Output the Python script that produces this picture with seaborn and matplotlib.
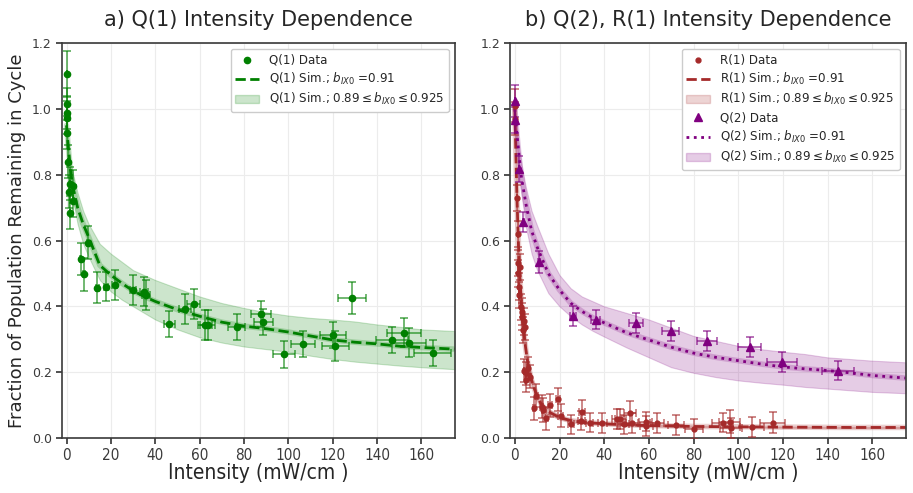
import matplotlib
matplotlib.use("Agg")
import matplotlib.pyplot as plt
import matplotlib.font_manager as fm
from matplotlib.lines import Line2D
from matplotlib.patches import Patch
import seaborn as sns

# ---- Q(1) measured data ----
q1_x = [0.2, 0.2, 0.2, 0.2, 0.2, 0.5, 1.2, 1.7, 1.7, 3.0, 3.0, 6.4, 8.0, 9.7, 13.8, 17.6, 21.7,
        30.0, 35.0, 35.8, 46.4, 53.3, 57.3, 62.6, 63.6, 76.7, 87.6, 88.8, 98.2, 106.7, 120.2,
        121.2, 128.8, 146.7, 152.0, 154.2, 165.1]
q1_y = [1.105, 1.015, 0.988, 0.973, 0.927, 0.839, 0.749, 0.772, 0.684, 0.720, 0.765, 0.544, 0.498,
        0.594, 0.457, 0.460, 0.464, 0.450, 0.445, 0.435, 0.346, 0.392, 0.408, 0.343, 0.343, 0.338,
        0.376, 0.352, 0.254, 0.285, 0.313, 0.280, 0.426, 0.298, 0.320, 0.290, 0.259]
q1_yerr = [0.07, 0.05, 0.05, 0.05, 0.05, 0.05, 0.05, 0.05, 0.05, 0.05, 0.05, 0.048, 0.05, 0.05,
           0.047, 0.045, 0.045, 0.045, 0.045, 0.045, 0.04, 0.045, 0.045, 0.045, 0.045, 0.04,
           0.04, 0.04, 0.042, 0.04, 0.04, 0.045, 0.048, 0.04, 0.045, 0.045, 0.04]
q1_xerr = [0.01, 0.01, 0.01, 0.01, 0.01, 0.03, 0.06, 0.09, 0.09, 0.15, 0.15, 0.3, 0.4, 0.5, 0.7,
           0.9, 1.1, 1.5, 1.75, 1.8, 2.3, 2.7, 2.9, 3.1, 3.2, 3.8, 4.4, 4.4, 4.9, 5.3, 6.0, 6.1,
           6.4, 7.3, 7.6, 7.7, 8.3]

# ---- Q(2) measured data ----
q2_x = [0.1, 0.1, 1.9, 3.7, 10.8, 26.0, 36.2, 54.3, 69.7, 86.0, 105.1, 119.7, 144.8]
q2_y = [1.024, 0.967, 0.817, 0.657, 0.534, 0.371, 0.360, 0.350, 0.324, 0.295, 0.277, 0.230, 0.205]
q2_yerr = [0.05, 0.04, 0.04, 0.03, 0.033, 0.03, 0.03, 0.03, 0.03, 0.03, 0.03, 0.03, 0.03]
q2_xerr = [0.01, 0.01, 0.1, 0.2, 0.6, 1.4, 2.0, 3.0, 3.7, 4.6, 5.0, 6.6, 7.2]

# ---- R(1) measured data ----
r1_x = [0.1, 0.1, 0.9, 1.5, 1.5, 2.4, 1.6, 1.9, 1.9, 2.7, 3.1, 3.4, 4.1, 4.6, 3.7, 4.1, 5.2, 6.1,
        4.9, 6.7, 8.6, 9.7, 12.0, 12.6, 14.1, 15.7, 19.3, 20.5, 25.3, 30.1, 29.8, 33.5, 39.1,
        45.7, 47.2, 51.7, 48.7, 52.4, 58.7, 58.8, 63.8, 72.2, 80.3, 93.0, 96.2, 96.7, 106.2, 115.5]
r1_y = [1.01, 0.97, 0.729, 0.62, 0.531, 0.519, 0.50, 0.46, 0.435, 0.399, 0.384, 0.369, 0.354,
        0.338, 0.328, 0.205, 0.197, 0.212, 0.176, 0.186, 0.09, 0.128, 0.095, 0.085, 0.06, 0.10,
        0.118, 0.067, 0.041, 0.08, 0.053, 0.047, 0.045, 0.058, 0.057, 0.077, 0.041, 0.045, 0.05,
        0.037, 0.045, 0.04, 0.027, 0.047, 0.05, 0.031, 0.034, 0.047]
r1_yerr = [0.05, 0.05, 0.04, 0.04, 0.04, 0.04, 0.04, 0.04, 0.04, 0.04, 0.04, 0.04, 0.04, 0.04,
           0.04, 0.035, 0.035, 0.035, 0.035, 0.035, 0.035, 0.035, 0.035, 0.035, 0.035, 0.035,
           0.035, 0.035, 0.03, 0.035, 0.03, 0.03, 0.03, 0.03, 0.03, 0.035, 0.03, 0.03, 0.03,
           0.03, 0.03, 0.03, 0.03, 0.03, 0.035, 0.03, 0.03, 0.031]
r1_xerr = [0.01, 0.01, 0.05, 0.08, 0.08, 0.12, 0.08, 0.1, 0.1, 0.14, 0.16, 0.17, 0.2, 0.23, 0.19,
           0.2, 0.26, 0.3, 0.25, 0.34, 0.43, 0.5, 0.6, 0.63, 0.7, 0.8, 1.0, 1.0, 1.3, 1.5, 1.5,
           1.7, 2.0, 2.3, 2.4, 2.6, 2.4, 2.6, 2.9, 2.9, 3.2, 3.6, 4.0, 4.6, 4.8, 4.8, 5.3, 5.6]

# ---- simulations (b_IX0 = 0.91 line, 0.89..0.925 band) ----
sim_x = [0, 1, 2, 3, 5, 7.5, 10, 15, 20, 25, 30, 35, 40, 50, 60, 70, 80, 90, 100, 110, 120,
         130, 140, 150, 160, 175]
q1_sim = [0.95, 0.87, 0.80, 0.76, 0.70, 0.65, 0.61, 0.525, 0.495, 0.47, 0.447, 0.43, 0.415, 0.39,
          0.37, 0.352, 0.34, 0.332, 0.322, 0.31, 0.298, 0.291, 0.286, 0.279, 0.275, 0.270]
q1_lo = [0.93, 0.85, 0.77, 0.72, 0.65, 0.59, 0.55, 0.48, 0.445, 0.42, 0.40, 0.38, 0.36, 0.33,
         0.306, 0.29, 0.278, 0.27, 0.262, 0.25, 0.24, 0.232, 0.226, 0.22, 0.215, 0.209]
q1_hi = [0.96, 0.89, 0.83, 0.80, 0.745, 0.69, 0.65, 0.59, 0.56, 0.535, 0.51, 0.495, 0.48, 0.455,
         0.43, 0.41, 0.395, 0.382, 0.372, 0.365, 0.36, 0.354, 0.345, 0.338, 0.33, 0.325]
q2_sim = [1.0, 0.92, 0.85, 0.79, 0.71, 0.63, 0.58, 0.50, 0.45, 0.41, 0.385, 0.365, 0.35, 0.32,
          0.298, 0.276, 0.258, 0.245, 0.235, 0.225, 0.216, 0.21, 0.205, 0.198, 0.19, 0.182]
q2_lo = [0.98, 0.89, 0.80, 0.74, 0.64, 0.56, 0.51, 0.44, 0.40, 0.37, 0.345, 0.325, 0.308, 0.275,
         0.245, 0.215, 0.198, 0.185, 0.175, 0.168, 0.162, 0.155, 0.15, 0.145, 0.14, 0.136]
q2_hi = [1.01, 0.94, 0.88, 0.83, 0.76, 0.69, 0.645, 0.56, 0.495, 0.455, 0.43, 0.415, 0.40, 0.38,
         0.36, 0.335, 0.31, 0.295, 0.28, 0.27, 0.262, 0.255, 0.245, 0.24, 0.235, 0.23]
r1_sim_x = [0, 0.5, 1, 1.5, 2, 3, 4, 5, 6, 7.5, 10, 12.5, 15, 20, 25, 30, 40, 50, 60, 80, 100,
            120, 150, 175]
r1_sim = [1.0, 0.85, 0.72, 0.61, 0.52, 0.40, 0.32, 0.265, 0.22, 0.175, 0.125, 0.095, 0.08, 0.062,
          0.053, 0.048, 0.043, 0.04, 0.038, 0.035, 0.034, 0.033, 0.032, 0.032]
r1_lo = [0.98, 0.82, 0.69, 0.58, 0.49, 0.375, 0.30, 0.245, 0.205, 0.162, 0.115, 0.088, 0.073,
         0.057, 0.049, 0.045, 0.04, 0.037, 0.035, 0.033, 0.032, 0.031, 0.03, 0.03]
r1_hi = [1.01, 0.87, 0.75, 0.64, 0.55, 0.425, 0.345, 0.285, 0.238, 0.19, 0.136, 0.104, 0.088,
         0.068, 0.058, 0.052, 0.047, 0.043, 0.041, 0.038, 0.036, 0.035, 0.034, 0.034]

sim_lbl = r"Sim.; $b_{IX0}$ =0.91"
band_lbl = r"Sim.; 0.89$\leq b_{IX0} \leq$0.925"

sns.set_theme(style="whitegrid")
plt.rcParams.update({
    "font.family": ["DejaVu Sans"],
    "axes.edgecolor": "#3a3a3a",
    "axes.linewidth": 1.2,
    "grid.color": "#ececec",
    "grid.linewidth": 0.8,
    "xtick.bottom": True,
    "ytick.left": True,
    "xtick.color": "#3a3a3a",
    "ytick.color": "#3a3a3a",
    "xtick.major.size": 4,
    "ytick.major.size": 4,
})


def narrow_font():
    files = [f.fname for f in fm.fontManager.ttflist]
    for key in ("NotoSans-ExtraCondensed.ttf", "LiberationSansNarrow-Regular.ttf",
                "NotoSans-Condensed.ttf", "DejaVuSansCondensed.ttf", "RobotoCondensed-Regular.ttf"):
        for p in files:
            if p.endswith(key):
                return p
    return None


nf = narrow_font()

fig = plt.figure(figsize=(9.13, 4.93), dpi=100)
ax1 = fig.add_axes([0.068, 0.1116, 0.430, 0.801])
ax2 = fig.add_axes([0.559, 0.1116, 0.433, 0.801])


def draw_data(ax, x, y, xerr, yerr, color, marker, ms):
    ax.errorbar(x, y, yerr=yerr, xerr=xerr, fmt="none", ecolor=color, alpha=0.65,
                elinewidth=1.2, capsize=3, capthick=1.2, zorder=3)
    ax.plot(x, y, linestyle="none", marker=marker, ms=ms, color=color, zorder=4)


def draw_sim(ax, x, y, lo, hi, color, ls):
    ax.fill_between(x, lo, hi, color=color, alpha=0.2, lw=0.8, zorder=1)
    sns.lineplot(x=x, y=y, ax=ax, color=color, lw=4, alpha=0.22, legend=False, zorder=2)
    sns.lineplot(x=x, y=y, ax=ax, color=color, lw=2, linestyle=ls, legend=False, zorder=2)


# panel a
draw_sim(ax1, sim_x, q1_sim, q1_lo, q1_hi, "green", "--")
draw_data(ax1, q1_x, q1_y, q1_xerr, q1_yerr, "green", "o", 4.5)
h1 = [Line2D([], [], ls="none", marker="o", ms=4.5, color="green"),
      Line2D([], [], ls="--", lw=2, color="green"),
      Patch(facecolor="green", alpha=0.2, edgecolor="green")]
l1 = ["Q(1) Data", "Q(1) " + sim_lbl, "Q(1) " + band_lbl]
ax1.legend(h1, l1, loc="upper right", fontsize=8.6, frameon=True, framealpha=1,
           edgecolor="#cccccc", labelspacing=0.35, borderaxespad=0.5)

# panel b
draw_sim(ax2, r1_sim_x, r1_sim, r1_lo, r1_hi, "brown", "--")
draw_sim(ax2, sim_x, q2_sim, q2_lo, q2_hi, "purple", ":")
draw_data(ax2, r1_x, r1_y, r1_xerr, r1_yerr, "brown", "o", 3.5)
draw_data(ax2, q2_x, q2_y, q2_xerr, q2_yerr, "purple", "^", 6)
h2 = [Line2D([], [], ls="none", marker="o", ms=3.5, color="brown"),
      Line2D([], [], ls="--", lw=2, color="brown"),
      Patch(facecolor="brown", alpha=0.2, edgecolor="brown"),
      Line2D([], [], ls="none", marker="^", ms=6, color="purple"),
      Line2D([], [], ls=":", lw=2, color="purple"),
      Patch(facecolor="purple", alpha=0.2, edgecolor="purple")]
l2 = ["R(1) Data", "R(1) " + sim_lbl, "R(1) " + band_lbl,
      "Q(2) Data", "Q(2) " + sim_lbl, "Q(2) " + band_lbl]
ax2.legend(h2, l2, loc="upper right", fontsize=8.6, frameon=True, framealpha=1,
           edgecolor="#cccccc", labelspacing=0.35, borderaxespad=0.5)

titles = ["a) Q(1) Intensity Dependence", "b) Q(2), R(1) Intensity Dependence"]
for ax, t in zip([ax1, ax2], titles):
    ax.set_xlim(-2, 175)
    ax.set_ylim(0, 1.2)
    ax.set_xticks(range(0, 161, 20))
    ax.set_yticks([0.0, 0.2, 0.4, 0.6, 0.8, 1.0, 1.2])
    ax.set_title(t, fontsize=15, pad=12)
    ax.tick_params(axis="y", labelsize=9)
    ax.set_ylabel("")
    if nf:
        fp_tick = fm.FontProperties(fname=nf, size=11)
        fp_lab = fm.FontProperties(fname=nf, size=15)
        for lab in ax.get_xticklabels():
            lab.set_fontproperties(fp_tick)
        ax.set_xlabel("Intensity (mW/cm )", fontproperties=fp_lab, labelpad=0)
    else:
        ax.tick_params(axis="x", labelsize=10)
        ax.set_xlabel("Intensity (mW/cm )", fontsize=14, labelpad=0)
    for s in ax.spines.values():
        s.set_visible(True)

ax1.set_ylabel("Fraction of Population Remaining in Cycle", fontsize=13)

fig.savefig("out.png", dpi=100)
